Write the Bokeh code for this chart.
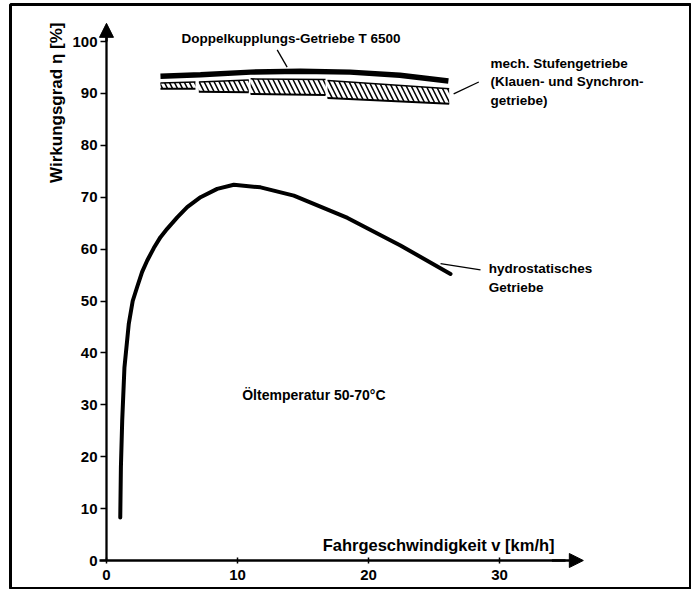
import numpy as np
from bokeh.plotting import figure
from bokeh.models import LinearAxis, FixedTicker, Arrow, NormalHead
from bokeh.embed import file_html
from bokeh.resources import INLINE
from bokeh.core.properties import value

# ---------------- data ----------------
# hydrostatisches Getriebe
hydro_v = [1.05, 1.10, 1.20, 1.37, 1.70, 2.00, 2.34, 2.72, 3.11, 3.61, 4.12, 4.63,
           5.40, 6.16, 7.18, 8.45, 9.72, 11.76, 14.30, 18.4, 22.44, 26.26]
hydro_eta = [8.3, 18.0, 27.0, 37.2, 45.6, 50.0, 52.7, 55.6, 57.8, 60.2, 62.3, 63.9,
             66.1, 68.1, 70.0, 71.6, 72.4, 71.9, 70.3, 66.0, 60.7, 55.2]

# Doppelkupplungs-Getriebe T 6500
dk_v = [4.12, 7.18, 11.0, 14.8, 18.6, 22.4, 26.1]
dk_eta = [93.3, 93.6, 94.1, 94.25, 94.1, 93.5, 92.4]

# mech. Stufengetriebe band (segments)
band_v = [[4.12, 6.79], [7.05, 10.86], [11.0, 16.72], [16.87, 26.16]]
band_top = [[92.0, 92.2], [92.2, 92.6], [92.8, 92.7], [92.5, 90.9]]
band_bot = [[90.9, 90.9], [90.3, 90.2], [89.9, 89.7], [89.1, 88.0]]

x_ticks = [0, 10, 20, 30]
y_ticks = [0, 10, 20, 30, 40, 50, 60, 70, 80, 90, 100]

# leader lines
lead_x0 = [13.03, 28.42, 28.55]
lead_y0 = [98.4, 92.2, 56.0]
lead_x1 = [13.79, 26.5, 25.5]
lead_y1 = [95.05, 89.9, 57.2]

# annotation texts
ann_text = ["Doppelkupplungs-Getriebe T 6500", "mech. Stufengetriebe",
            "(Klauen- und Synchron-", "getriebe)", "hydrostatisches", "Getriebe"]
ann_x = [5.73, 29.31, 29.31, 29.31, 29.18, 29.18]
ann_y = [100.5, 95.7, 92.2, 88.6, 56.2, 52.66]

FONT = value("Liberation Sans")

p = figure(width=691, height=589, x_range=(-7.328, 44.58), y_range=(-5.395, 107.13),
           x_axis_type=None, y_axis_type=None, toolbar_location=None, tools="",
           output_backend="svg", min_border_left=10, min_border_top=4,
           min_border_right=1, min_border_bottom=1)
p.outline_line_color = "black"
p.outline_line_width = 3
p.background_fill_color = "white"
p.border_fill_color = "white"

# axes
yax = LinearAxis(fixed_location=0, ticker=FixedTicker(ticks=y_ticks), bounds=(0, 101))
xax = LinearAxis(fixed_location=0, ticker=FixedTicker(ticks=x_ticks), bounds=(-0.5, 35))
for ax in (xax, yax):
    ax.axis_line_width = 2.3
    ax.axis_line_color = "black"
    ax.major_tick_line_width = 1.5
    ax.major_tick_line_color = "black"
    ax.minor_tick_out = 0
    ax.minor_tick_in = 0
    ax.major_label_text_font = "Liberation Sans"
    ax.major_label_text_font_style = "bold"
    ax.major_label_text_font_size = "15px"
    ax.major_label_text_color = "black"
yax.major_tick_out = 6
yax.major_tick_in = 0
yax.major_label_standoff = 3
xax.major_tick_out = 3
xax.major_tick_in = 3
xax.major_label_standoff = 6
p.add_layout(yax, "left")
p.add_layout(xax, "below")

p.add_layout(Arrow(end=NormalHead(size=14, fill_color="black", line_color="black"),
                   x_start=0, y_start=100, x_end=0, y_end=103.5,
                   line_width=2.3, line_color="black"))
p.add_layout(Arrow(end=NormalHead(size=14, fill_color="black", line_color="black"),
                   x_start=34.0, y_start=0, x_end=36.4, y_end=0,
                   line_width=2.3, line_color="black"))

# hatched band
for bv, bt, bb in zip(band_v, band_top, band_bot):
    p.varea(x=bv, y1=bb, y2=bt, fill_color="white", hatch_pattern="\\",
            hatch_color="black", hatch_weight=1.5, hatch_scale=10)
    p.line(x=bv, y=bt, line_color="black", line_width=1.5)
    p.line(x=bv, y=bb, line_color="black", line_width=2)

# Doppelkupplung line
p.line(x=dk_v, y=dk_eta, line_color="black", line_width=5.5, line_cap="butt")

# hydrostatic curve
p.line(x=hydro_v, y=hydro_eta, line_color="black", line_width=4, line_cap="round",
       line_join="round")

# leaders
p.segment(x0=lead_x0, y0=lead_y0, x1=lead_x1, y1=lead_y1, line_color="black",
          line_width=1.3)

# texts
p.text(x=ann_x, y=ann_y, text=ann_text, text_font=FONT, text_font_style="bold",
       text_font_size="13.5px", text_align="left", text_baseline="middle",
       text_color="black")
p.text(x=[10.36], y=[31.8], text=["Öltemperatur 50-70°C"], text_font=FONT,
       text_font_style="bold", text_font_size="14px", text_align="left",
       text_baseline="middle", text_color="black")
p.text(x=[16.5], y=[2.9], text=["Fahrgeschwindigkeit v [km/h]"], text_font=FONT,
       text_font_style="bold", text_font_size="16.5px", text_align="left",
       text_baseline="middle", text_color="black")
p.text(x=[-3.79], y=[88.2], text=["Wirkungsgrad η [%]"], angle=np.pi / 2,
       text_font=FONT, text_font_style="bold", text_font_size="17px",
       text_align="center", text_baseline="middle", text_color="black")

open("out.html", "w").write(file_html(p, INLINE))
